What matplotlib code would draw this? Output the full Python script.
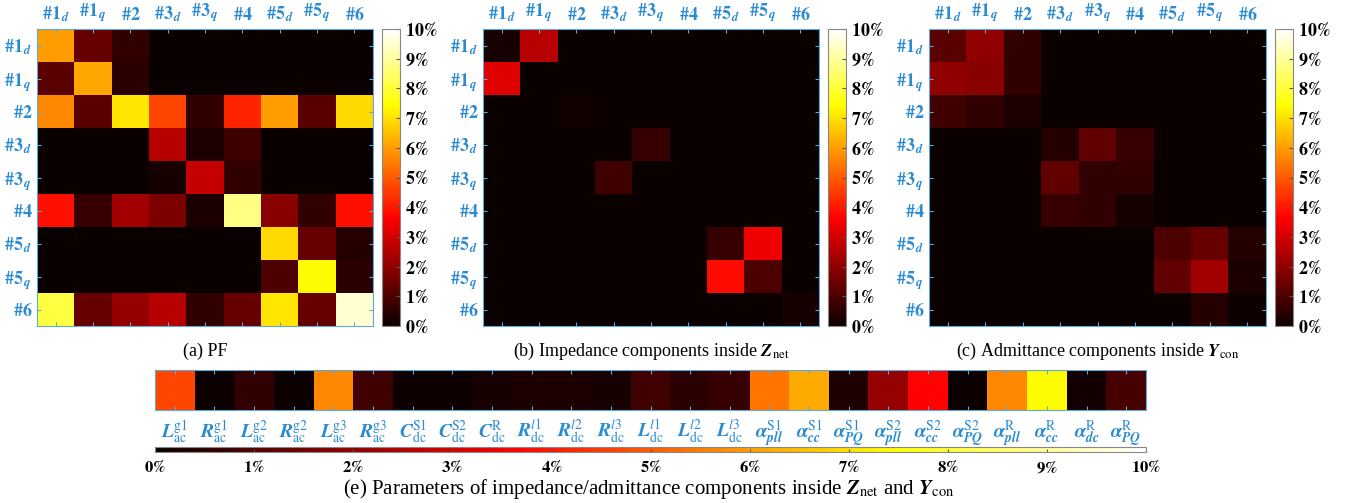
import matplotlib
matplotlib.use('Agg')
import matplotlib.pyplot as plt
import numpy as np

plt.rcParams['mathtext.fontset'] = 'stix'
plt.rcParams['font.family'] = 'Liberation Serif'

# state labels (rows and columns of the matrices)
states = ['#1_d', '#1_q', '#2', '#3_d', '#3_q', '#4', '#5_d', '#5_q', '#6']

# values in percent, rows = states, columns = states
pf = [
    [6.0, 1.4, 0.6, 0.0, 0.0, 0.0, 0.0, 0.0, 0.0],
    [1.2, 6.1, 0.5, 0.0, 0.0, 0.0, 0.0, 0.0, 0.0],
    [5.7, 1.2, 7.1, 4.7, 0.6, 4.2, 6.0, 1.2, 6.9],
    [0.0, 0.0, 0.0, 2.6, 0.3, 0.8, 0.0, 0.0, 0.0],
    [0.0, 0.0, 0.0, 0.2, 2.8, 0.6, 0.0, 0.0, 0.0],
    [3.9, 0.7, 2.3, 1.7, 0.3, 8.75, 1.9, 0.6, 3.9],
    [0.0, 0.0, 0.0, 0.0, 0.0, 0.0, 6.9, 1.4, 0.4],
    [0.0, 0.0, 0.0, 0.0, 0.0, 0.0, 1.0, 7.4, 0.5],
    [8.1, 1.4, 2.1, 2.6, 0.6, 1.4, 7.1, 1.4, 9.5],
]
z_net = [
    [0.2, 2.6, 0.0, 0.0, 0.0, 0.0, 0.0, 0.0, 0.0],
    [3.2, 0.0, 0.0, 0.0, 0.0, 0.0, 0.0, 0.0, 0.0],
    [0.0, 0.0, 0.15, 0.0, 0.0, 0.0, 0.0, 0.0, 0.0],
    [0.0, 0.0, 0.0, 0.0, 0.7, 0.0, 0.0, 0.0, 0.0],
    [0.0, 0.0, 0.0, 0.8, 0.0, 0.0, 0.0, 0.0, 0.0],
    [0.0, 0.0, 0.0, 0.0, 0.0, 0.0, 0.0, 0.0, 0.0],
    [0.0, 0.0, 0.0, 0.0, 0.0, 0.0, 0.7, 3.4, 0.0],
    [0.0, 0.0, 0.0, 0.0, 0.0, 0.0, 3.8, 1.0, 0.0],
    [0.0, 0.0, 0.0, 0.0, 0.0, 0.0, 0.0, 0.0, 0.2],
]
y_con = [
    [1.2, 2.0, 0.6, 0.0, 0.0, 0.0, 0.0, 0.0, 0.0],
    [2.0, 1.9, 0.6, 0.0, 0.0, 0.0, 0.0, 0.0, 0.0],
    [0.8, 0.6, 0.3, 0.0, 0.0, 0.0, 0.0, 0.0, 0.0],
    [0.0, 0.0, 0.0, 0.4, 1.3, 0.7, 0.0, 0.0, 0.0],
    [0.0, 0.0, 0.0, 1.3, 0.6, 0.6, 0.0, 0.0, 0.0],
    [0.0, 0.0, 0.0, 0.7, 0.6, 0.2, 0.0, 0.0, 0.0],
    [0.0, 0.0, 0.0, 0.0, 0.0, 0.0, 1.0, 1.4, 0.4],
    [0.0, 0.0, 0.0, 0.0, 0.0, 0.0, 1.3, 2.3, 0.3],
    [0.0, 0.0, 0.0, 0.0, 0.0, 0.0, 0.0, 0.4, 0.1],
]

# component parameters (panel e)
params = [r'\mathbfit{L}_{\rm ac}^{\rm g1}', r'\mathbfit{R}_{\rm ac}^{\rm g1}',
          r'\mathbfit{L}_{\rm ac}^{\rm g2}', r'\mathbfit{R}_{\rm ac}^{\rm g2}',
          r'\mathbfit{L}_{\rm ac}^{\rm g3}', r'\mathbfit{R}_{\rm ac}^{\rm g3}',
          r'\mathbfit{C}_{\rm dc}^{\rm S1}', r'\mathbfit{C}_{\rm dc}^{\rm S2}', r'\mathbfit{C}_{\rm dc}^{\rm R}',
          r'\mathbfit{R}_{\rm dc}^{l1}', r'\mathbfit{R}_{\rm dc}^{l2}', r'\mathbfit{R}_{\rm dc}^{l3}',
          r'\mathbfit{L}_{\rm dc}^{l1}', r'\mathbfit{L}_{\rm dc}^{l2}', r'\mathbfit{L}_{\rm dc}^{l3}',
          r'\mathbfit{\alpha}_{\mathbfit{pll}}^{\rm S1}', r'\mathbfit{\alpha}_{\mathbfit{cc}}^{\rm S1}',
          r'\mathbfit{\alpha}_{\mathbfit{PQ}}^{\rm S1}', r'\mathbfit{\alpha}_{\mathbfit{pll}}^{\rm S2}',
          r'\mathbfit{\alpha}_{\mathbfit{cc}}^{\rm S2}', r'\mathbfit{\alpha}_{\mathbfit{PQ}}^{\rm S2}',
          r'\mathbfit{\alpha}_{\mathbfit{pll}}^{\rm R}', r'\mathbfit{\alpha}_{\mathbfit{cc}}^{\rm R}',
          r'\mathbfit{\alpha}_{\mathbfit{dc}}^{\rm R}', r'\mathbfit{\alpha}_{\mathbfit{PQ}}^{\rm R}']
param_vals = [4.7, 0.05, 0.6, 0.05, 5.7, 0.8, 0.1, 0.1, 0.2, 0.3, 0.3, 0.2,
              0.85, 0.5, 0.7, 5.4, 6.2, 0.35, 2.1, 3.7, 0.05, 5.7, 7.4, 0.15, 0.9]

cbar_ticks = list(range(0, 11))
captions = ['(a) PF',
            r'(b) Impedance components inside $\mathbfit{Z}_{\rm net}$',
            r'(c) Admittance components inside $\mathbfit{Y}_{\rm con}$',
            r'(e) Parameters of impedance/admittance components inside $\mathbfit{Z}_{\rm net}$ and $\mathbfit{Y}_{\rm con}$']

blue = '#2A8BD2'
edge = '#5FA8DC'
W, H = 1349, 503


def rect(x0, x1, y0, y1):
    return [x0 / W, 1 - y1 / H, (x1 - x0) / W, (y1 - y0) / H]


def state_label(s):
    if '_' in s:
        a, b = s.split('_')
        return r'$\mathbf{\%s}_{\,\mathbfit{%s}}$' % (a, b)
    return r'$\mathbf{\%s}$' % s


def pct(v):
    return r'$\mathbf{%d\%%}$' % v


fig = plt.figure(figsize=(13.49, 5.03), dpi=100)
labels = [state_label(s) for s in states]

panels = [(pf, (37, 373), (382, 400), 205),
          (z_net, (483, 819), (828, 846), 651),
          (y_con, (929, 1266), (1275, 1293), 1098)]
for i, (mat, (x0, x1), (c0, c1), cx) in enumerate(panels):
    ax = fig.add_axes(rect(x0, x1, 29, 326))
    im = ax.imshow(np.array(mat), cmap='hot', vmin=0, vmax=10, aspect='auto')
    ax.xaxis.tick_top()
    ax.set_xticks(range(len(states)))
    ax.set_yticks(range(len(states)))
    ax.set_xticklabels(labels, color=blue, fontsize=13)
    ax.set_yticklabels(labels, color=blue, fontsize=13)
    ax.tick_params(direction='in', length=3, color=edge, top=True, bottom=True, left=True, right=True)
    for sp in ax.spines.values():
        sp.set_color(edge)
    cax = fig.add_axes(rect(c0, c1, 29, 326))
    cb = fig.colorbar(im, cax=cax)
    cb.set_ticks(cbar_ticks)
    cb.set_ticklabels([pct(v) for v in cbar_ticks], fontsize=13)
    cb.outline.set_edgecolor('#888888')
    cax.tick_params(direction='in', length=3, color='#555555')
    fig.text(cx / W, 1 - 351 / H, captions[i], ha='center', va='center', fontsize=13)

# panel e
ax = fig.add_axes(rect(155, 1146, 370, 410))
im = ax.imshow(np.array([param_vals]), cmap='hot', vmin=0, vmax=10, aspect='auto')
ax.set_xticks(range(len(params)))
ax.set_xticklabels(['$%s$' % p for p in params], color=blue, fontsize=14)
ax.set_yticks([])
ax.tick_params(axis='x', direction='in', length=3, color=edge, top=True, bottom=True, pad=6)
for sp in ax.spines.values():
    sp.set_color(edge)

cax = fig.add_axes(rect(155, 1146, 447, 452))
cb = fig.colorbar(im, cax=cax, orientation='horizontal')
cb.set_ticks(cbar_ticks)
cb.set_ticklabels([pct(v) for v in cbar_ticks], fontsize=12)
cb.outline.set_edgecolor('#888888')
cax.tick_params(direction='in', length=2, color='#555555', pad=6)
fig.text(649 / W, 1 - 489 / H, captions[3], ha='center', va='center', fontsize=15)

fig.savefig('out.png', dpi=100)
